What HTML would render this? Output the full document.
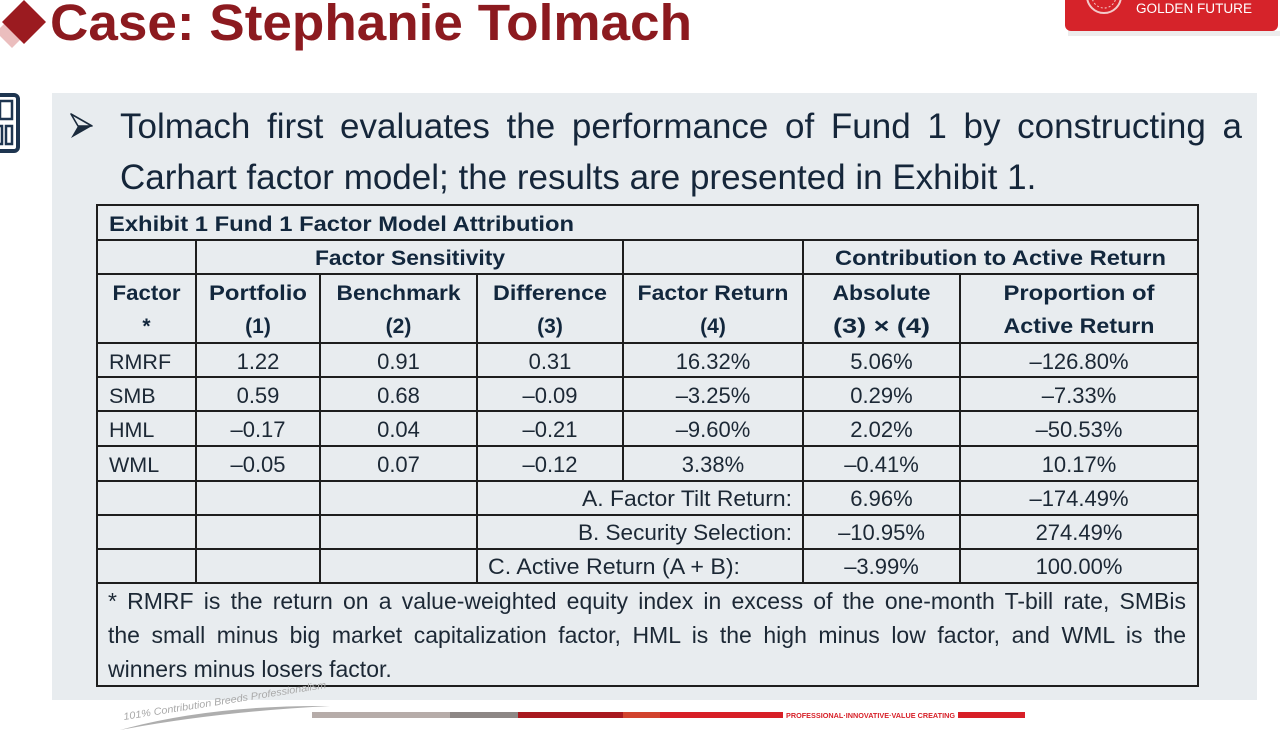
<!DOCTYPE html>
<html>
<head>
<meta charset="utf-8">
<style>
  html,body{margin:0;padding:0;background:#fff;}
  body{width:1285px;height:732px;overflow:hidden;position:relative;}
  svg{display:block;position:absolute;left:0;top:0;}
  .t{font-family:"Liberation Sans",Arial,sans-serif;}
  .b{font-weight:bold;fill:#12273d;}
  .r{fill:#1c2835;}
  .jl{position:absolute;font-family:"Liberation Sans",Arial,sans-serif;white-space:nowrap;
      text-align:justify;text-align-last:justify;margin:0;padding:0;}
  .nl{position:absolute;font-family:"Liberation Sans",Arial,sans-serif;white-space:nowrap;margin:0;padding:0;}
  .bul{font-size:35px;line-height:40px;height:40px;color:#15263a;}
  .fn{font-size:23px;line-height:26px;height:26px;color:#1c2835;}
</style>
</head>
<body>
<svg width="1285" height="732" viewBox="0 0 1285 732" xmlns="http://www.w3.org/2000/svg">
  <rect x="0" y="0" width="1285" height="732" fill="#ffffff"/>
  <!-- panel -->
  <rect x="52" y="93" width="1205" height="607" fill="#e8ecef"/>

  <!-- title diamonds -->
  <polygon points="12,16 28,32 12,48 -4,32" fill="#e7b3b3" opacity="0.85"/>
  <polygon points="24,0 46,22 24,44 2,22" fill="#9b1b20"/>
  <text class="t" x="50" y="40" font-size="51" font-weight="bold" fill="#8c1a1f" textLength="642" lengthAdjust="spacingAndGlyphs">Case: Stephanie Tolmach</text>

  <!-- logo -->
  <rect x="1068" y="31" width="212" height="5" fill="#e4e4e4" opacity="0.7"/>
  <rect x="1065" y="-10" width="213" height="41" rx="6" fill="#d6232a"/>
  <circle cx="1104" cy="-4" r="17" fill="none" stroke="#f3c9c9" stroke-width="2"/>
  <circle cx="1104" cy="-4" r="12" fill="none" stroke="#f3c9c9" stroke-width="1" stroke-dasharray="2 2"/>
  <text class="t" x="1136" y="13" font-size="13.5" fill="#ffffff" textLength="116" lengthAdjust="spacingAndGlyphs">GOLDEN FUTURE</text>

  <!-- left icon -->
  <rect x="-14" y="95" width="32" height="56" rx="4" fill="#ffffff" stroke="#1e3550" stroke-width="4"/>
  <rect x="0" y="101" width="12" height="18" fill="none" stroke="#1e3550" stroke-width="2.5"/>
  <rect x="-4" y="126" width="6" height="18" fill="none" stroke="#1e3550" stroke-width="2.5"/>
  <rect x="6" y="126" width="6" height="18" fill="none" stroke="#1e3550" stroke-width="2.5"/>

  <!-- bullet arrow -->
  <polygon points="71,114 92,126 78,126" fill="none" stroke="#1a2a3c" stroke-width="1.6" stroke-linejoin="round"/>
  <polygon points="78,126 92,126 71,138" fill="#1a2a3c"/>

  <!-- table grid -->
  <g stroke="#1e1e1e" stroke-width="2" fill="none">
    <rect x="97" y="205" width="1101" height="481"/>
    <line x1="97" y1="240" x2="1198" y2="240"/>
    <line x1="97" y1="274" x2="1198" y2="274"/>
    <line x1="97" y1="343" x2="1198" y2="343"/>
    <line x1="97" y1="377" x2="1198" y2="377"/>
    <line x1="97" y1="411" x2="1198" y2="411"/>
    <line x1="97" y1="446" x2="1198" y2="446"/>
    <line x1="97" y1="481" x2="1198" y2="481"/>
    <line x1="97" y1="515" x2="1198" y2="515"/>
    <line x1="97" y1="549" x2="1198" y2="549"/>
    <line x1="97" y1="583" x2="1198" y2="583"/>
    <line x1="196" y1="240" x2="196" y2="583"/>
    <line x1="320" y1="274" x2="320" y2="583"/>
    <line x1="477" y1="274" x2="477" y2="583"/>
    <line x1="623" y1="240" x2="623" y2="481"/>
    <line x1="803" y1="240" x2="803" y2="583"/>
    <line x1="960" y1="274" x2="960" y2="583"/>
  </g>

  <!-- title row -->
  <text class="t b" x="109" y="231" font-size="21" textLength="465" lengthAdjust="spacingAndGlyphs">Exhibit 1 Fund 1 Factor Model Attribution</text>
  <!-- row 2 -->
  <text class="t b" x="410" y="265" font-size="21" text-anchor="middle" textLength="190" lengthAdjust="spacingAndGlyphs">Factor Sensitivity</text>
  <text class="t b" x="1000.5" y="265" font-size="21" text-anchor="middle" textLength="331" lengthAdjust="spacingAndGlyphs">Contribution to Active Return</text>

  <!-- header row -->
  <g class="t b" font-size="21" text-anchor="middle">
    <text x="146.5" y="300" textLength="68" lengthAdjust="spacingAndGlyphs">Factor</text>
    <text x="258" y="300" textLength="98" lengthAdjust="spacingAndGlyphs">Portfolio</text>
    <text x="398.5" y="300" textLength="124" lengthAdjust="spacingAndGlyphs">Benchmark</text>
    <text x="550" y="300" textLength="114" lengthAdjust="spacingAndGlyphs">Difference</text>
    <text x="713" y="300" textLength="151" lengthAdjust="spacingAndGlyphs">Factor Return</text>
    <text x="881.5" y="300" textLength="98" lengthAdjust="spacingAndGlyphs">Absolute</text>
    <text x="1079" y="300" textLength="151" lengthAdjust="spacingAndGlyphs">Proportion of</text>

    <text x="146.5" y="333">*</text>
    <text x="258" y="333">(1)</text>
    <text x="398.5" y="333">(2)</text>
    <text x="550" y="333">(3)</text>
    <text x="713" y="333">(4)</text>
    <text x="881.5" y="333" textLength="97" lengthAdjust="spacingAndGlyphs">(3) × (4)</text>
    <text x="1079" y="333" textLength="151" lengthAdjust="spacingAndGlyphs">Active Return</text>
  </g>

  <!-- data rows -->
  <g class="t r" font-size="21.5">
    <text x="109" y="369">RMRF</text>
    <text x="109" y="403">SMB</text>
    <text x="109" y="437">HML</text>
    <text x="109" y="472">WML</text>
  </g>
  <g class="t r" font-size="22" text-anchor="middle">
    <text x="258" y="369">1.22</text>
    <text x="398.5" y="369">0.91</text>
    <text x="550" y="369">0.31</text>
    <text x="713" y="369">16.32%</text>
    <text x="881.5" y="369">5.06%</text>
    <text x="1079" y="369">–126.80%</text>

    <text x="258" y="403">0.59</text>
    <text x="398.5" y="403">0.68</text>
    <text x="550" y="403">–0.09</text>
    <text x="713" y="403">–3.25%</text>
    <text x="881.5" y="403">0.29%</text>
    <text x="1079" y="403">–7.33%</text>

    <text x="258" y="437">–0.17</text>
    <text x="398.5" y="437">0.04</text>
    <text x="550" y="437">–0.21</text>
    <text x="713" y="437">–9.60%</text>
    <text x="881.5" y="437">2.02%</text>
    <text x="1079" y="437">–50.53%</text>

    <text x="258" y="472">–0.05</text>
    <text x="398.5" y="472">0.07</text>
    <text x="550" y="472">–0.12</text>
    <text x="713" y="472">3.38%</text>
    <text x="881.5" y="472">–0.41%</text>
    <text x="1079" y="472">10.17%</text>

    <text x="881.5" y="506">6.96%</text>
    <text x="1079" y="506">–174.49%</text>
    <text x="881.5" y="540">–10.95%</text>
    <text x="1079" y="540">274.49%</text>
    <text x="881.5" y="574">–3.99%</text>
    <text x="1079" y="574">100.00%</text>
  </g>
  <g class="t r" font-size="22">
    <text x="582" y="506" textLength="210" lengthAdjust="spacingAndGlyphs">A. Factor Tilt Return:</text>
    <text x="578" y="540" textLength="214" lengthAdjust="spacingAndGlyphs">B. Security Selection:</text>
    <text x="488" y="574" textLength="252" lengthAdjust="spacingAndGlyphs">C. Active Return (A + B):</text>
  </g>

  <text class="t r" x="108" y="677" font-size="23">winners minus losers factor.</text>

  <!-- footer swoosh -->
  <path d="M120,730 Q210,705 330,706 Q215,712 120,730 Z" fill="#9a9a9a" opacity="0.8"/>
  <text class="t" x="124" y="720" font-size="10" fill="#a9a9a9" font-style="italic" transform="rotate(-9 124 720)" textLength="205" lengthAdjust="spacingAndGlyphs">101% Contribution Breeds Professionalism</text>

  <!-- footer bar -->
  <rect x="312" y="712" width="138" height="6" fill="#b6aca9"/>
  <rect x="450" y="712" width="68" height="6" fill="#8d8785"/>
  <rect x="518" y="712" width="105" height="6" fill="#a8191f"/>
  <rect x="623" y="712" width="37" height="6" fill="#d2432e"/>
  <rect x="660" y="712" width="123" height="6" fill="#d71f27"/>
  <text class="t" x="786" y="718" font-size="7.5" font-weight="bold" fill="#d71f27" textLength="169" lengthAdjust="spacingAndGlyphs">PROFESSIONAL·INNOVATIVE·VALUE CREATING</text>
  <rect x="958" y="712" width="67" height="6" fill="#d71f27"/>
</svg>

<div class="jl bul" style="left:120px;top:107px;width:1122px;">Tolmach first evaluates the performance of Fund 1 by constructing a</div>
<div class="nl bul" style="left:120px;top:158px;">Carhart factor model; the results are presented in Exhibit 1.</div>
<div class="jl fn" style="left:108px;top:588px;width:1078px;">* RMRF is the return on a value-weighted equity index in excess of the one-month T-bill rate, SMBis</div>
<div class="jl fn" style="left:108px;top:622px;width:1078px;">the small minus big market capitalization factor, HML is the high minus low factor, and WML is the</div>
</body>
</html>
